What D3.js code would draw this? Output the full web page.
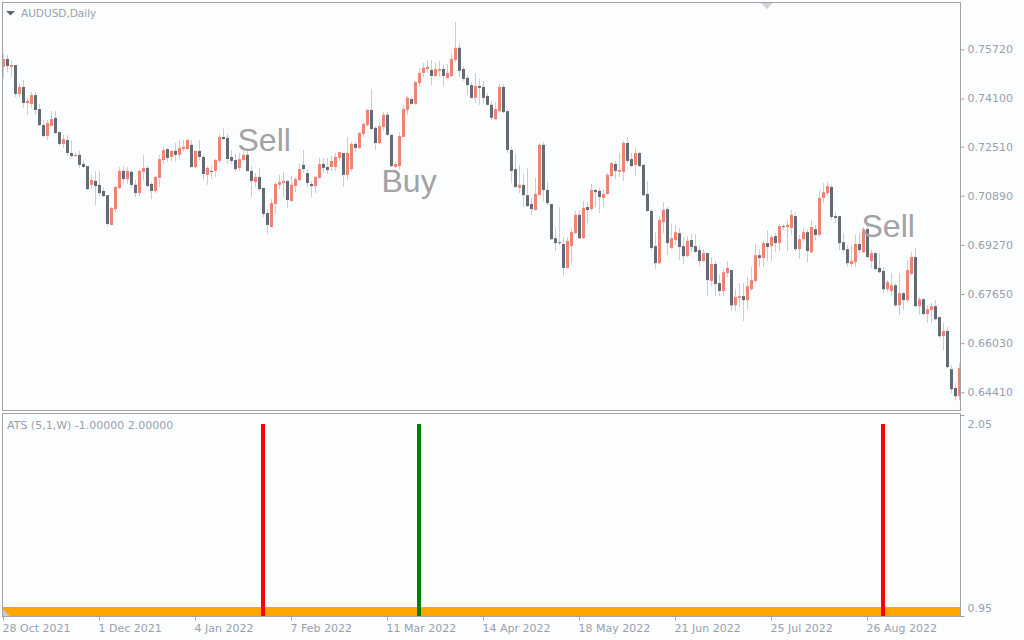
<!DOCTYPE html>
<html><head><meta charset="utf-8">
<script src="https://cdn.jsdelivr.net/npm/d3@7"></script>
<style>html,body{margin:0;padding:0;background:#fcfdff;} svg{display:block;}</style>
</head><body>
<svg id="chart" width="1024" height="640"></svg>
<script>
// ---- Data (AUDUSD daily) ----
const open = [
.7514,.7540,.7514,.7520,.7425,.7448,.7395,.7392,.7421,.7375,
.7322,.7286,.7319,.7346,.7299,.7260,.7273,.7230,.7220,.7224,
.7194,.7187,.7125,.7138,.7125,.7105,.7091,.6993,.7045,.7115,
.7171,.7144,.7168,.7125,.7098,.7168,.7181,.7128,.7105,.7148,
.7207,.7243,.7217,.7237,.7224,.7243,.7243,.7257,.7184,.7237,
.7217,.7158,.7171,.7171,.7204,.7283,.7280,.7217,.7207,.7181,
.7207,.7224,.7171,.7135,.7151,.7115,.7032,.6986,.7062,.7125,
.7131,.7138,.7072,.7121,.7141,.7191,.7164,.7128,.7121,.7148,
.7194,.7184,.7184,.7184,.7214,.7230,.7158,.7177,.7260,.7247,
.7293,.7322,.7372,.7313,.7263,.7316,.7356,.7290,.7184,.7187,
.7283,.7372,.7408,.7392,.7461,.7494,.7507,.7504,.7484,.7501,
.7507,.7478,.7484,.7537,.7577,.7507,.7478,.7454,.7412,.7451,
.7448,.7418,.7389,.7342,.7368,.7448,.7368,.7240,.7177,.7115,
.7125,.7091,.7062,.7042,.7091,.7257,.7108,.7062,.6949,.6936,
.6930,.6851,.6923,.6966,.7026,.6949,.7052,.7045,.7108,.7105,
.7082,.7095,.7154,.7194,.7168,.7168,.7263,.7210,.7191,.7230,
.7191,.7095,.7039,.6923,.6867,.7002,.7045,.6917,.6943,.6966,
.6923,.6890,.6943,.6923,.6910,.6874,.6900,.6808,.6864,.6801,
.6775,.6834,.6844,.6728,.6752,.6758,.6745,.6781,.6808,.6893,
.6884,.6933,.6923,.6956,.6933,.6989,.6986,.6983,.7022,.6913,
.6946,.6969,.6903,.6979,.6960,.7082,.7098,.7118,.7022,.7022,
.6936,.6913,.6864,.6870,.6930,.6903,.6979,.6874,.6900,.6851,
.6841,.6781,.6775,.6794,.6728,.6768,.6745,.6831,.6887,.6725,
.6748,.6699,.6712,.6725,.6689,.6626,.6643,.6517,.6455,.6428];
const high = [
.7557,.7554,.7537,.7520,.7458,.7471,.7412,.7431,.7431,.7392,
.7339,.7339,.7368,.7368,.7303,.7290,.7290,.7273,.7230,.7237,
.7207,.7187,.7158,.7171,.7171,.7118,.7091,.7052,.7121,.7184,
.7187,.7184,.7174,.7141,.7177,.7224,.7187,.7135,.7154,.7224,
.7250,.7247,.7240,.7263,.7273,.7273,.7276,.7273,.7240,.7273,
.7224,.7187,.7187,.7210,.7293,.7313,.7293,.7240,.7227,.7230,
.7237,.7237,.7187,.7164,.7181,.7115,.7045,.7078,.7135,.7158,
.7168,.7141,.7154,.7151,.7194,.7240,.7177,.7138,.7154,.7214,
.7214,.7214,.7220,.7230,.7233,.7230,.7283,.7266,.7266,.7299,
.7332,.7375,.7441,.7319,.7332,.7365,.7365,.7290,.7200,.7299,
.7389,.7418,.7415,.7468,.7511,.7527,.7537,.7537,.7530,.7534,
.7520,.7524,.7557,.7662,.7593,.7517,.7488,.7464,.7494,.7474,
.7468,.7428,.7402,.7398,.7458,.7458,.7375,.7250,.7227,.7191,
.7161,.7181,.7082,.7148,.7263,.7266,.7135,.7062,.6986,.7052,
.6953,.6953,.6983,.7039,.7042,.7072,.7068,.7128,.7111,.7115,
.7111,.7164,.7200,.7204,.7230,.7270,.7283,.7230,.7247,.7233,
.7191,.7138,.7045,.6969,.7022,.7068,.7052,.6996,.6993,.6983,
.6953,.6956,.6963,.6963,.6927,.6913,.6900,.6887,.6874,.6828,
.6847,.6874,.6844,.6781,.6801,.6801,.6821,.6854,.6930,.6913,
.6940,.6976,.6960,.6966,.6996,.6996,.7009,.7042,.7035,.6960,
.6983,.6976,.7009,.6993,.7108,.7131,.7135,.7125,.7035,.7022,
.6966,.6927,.6927,.6960,.6966,.6986,.6993,.6910,.6903,.6900,
.6854,.6811,.6834,.6801,.6834,.6771,.6877,.6903,.6917,.6755,
.6752,.6728,.6735,.6745,.6689,.6669,.6656,.6530,.6471,.6537];
const low = [
.7478,.7497,.7481,.7415,.7412,.7379,.7356,.7379,.7356,.7319,
.7283,.7273,.7319,.7293,.7253,.7247,.7220,.7217,.7217,.7181,
.7181,.7108,.7111,.7059,.7088,.7085,.6989,.6993,.7035,.7111,
.7128,.7128,.7115,.7085,.7088,.7141,.7118,.7078,.7098,.7118,
.7194,.7201,.7204,.7201,.7210,.7237,.7240,.7181,.7181,.7207,
.7141,.7125,.7144,.7151,.7197,.7273,.7194,.7194,.7168,.7171,
.7201,.7168,.7085,.7118,.7105,.7019,.6963,.6983,.7029,.7111,
.7085,.7049,.7068,.7101,.7138,.7164,.7115,.7085,.7098,.7144,
.7164,.7161,.7171,.7171,.7204,.7118,.7141,.7171,.7233,.7243,
.7283,.7316,.7306,.7240,.7260,.7303,.7286,.7184,.7181,.7177,
.7283,.7356,.7389,.7389,.7448,.7481,.7494,.7454,.7481,.7481,
.7451,.7474,.7481,.7530,.7481,.7468,.7421,.7408,.7395,.7389,
.7392,.7385,.7339,.7339,.7365,.7362,.7230,.7131,.7115,.7098,
.7052,.7052,.7026,.7042,.7091,.7072,.7059,.6943,.6907,.6927,
.6824,.6847,.6867,.6963,.6946,.6946,.6999,.7039,.7052,.7032,
.7052,.7091,.7151,.7144,.7151,.7138,.7197,.7184,.7154,.7184,
.7088,.7035,.6910,.6847,.6864,.6966,.6893,.6913,.6927,.6877,
.6864,.6887,.6904,.6900,.6857,.6870,.6758,.6791,.6758,.6758,
.6758,.6821,.6709,.6709,.6722,.6676,.6715,.6775,.6804,.6854,
.6854,.6874,.6874,.6904,.6907,.6976,.6907,.6960,.6907,.6880,
.6936,.6870,.6900,.6943,.6953,.7065,.7091,.7009,.6999,.6910,
.6903,.6854,.6854,.6854,.6900,.6900,.6884,.6851,.6844,.6834,
.6768,.6771,.6761,.6722,.6696,.6712,.6738,.6827,.6722,.6696,
.6696,.6669,.6669,.6679,.6620,.6580,.6521,.6438,.6415,.6415];
const close = [
.7540,.7517,.7520,.7425,.7448,.7395,.7402,.7421,.7372,.7322,
.7286,.7329,.7342,.7296,.7260,.7276,.7230,.7220,.7224,.7191,
.7184,.7111,.7141,.7121,.7098,.7088,.6996,.7049,.7118,.7171,
.7144,.7171,.7125,.7098,.7171,.7181,.7121,.7105,.7151,.7210,
.7240,.7214,.7237,.7224,.7247,.7250,.7273,.7184,.7237,.7217,
.7161,.7181,.7168,.7207,.7283,.7276,.7210,.7204,.7177,.7210,
.7224,.7171,.7138,.7151,.7111,.7029,.6993,.7065,.7128,.7135,
.7138,.7075,.7125,.7144,.7177,.7177,.7131,.7121,.7151,.7194,
.7181,.7174,.7204,.7217,.7233,.7158,.7230,.7260,.7247,.7296,
.7326,.7372,.7309,.7263,.7319,.7356,.7290,.7187,.7194,.7286,
.7375,.7412,.7392,.7464,.7494,.7511,.7514,.7484,.7507,.7507,
.7484,.7494,.7540,.7577,.7501,.7474,.7454,.7412,.7451,.7445,
.7412,.7389,.7346,.7375,.7448,.7365,.7240,.7171,.7118,.7125,
.7091,.7055,.7045,.7095,.7257,.7108,.7065,.6946,.6933,.6933,
.6851,.6940,.6969,.7026,.6949,.7049,.7042,.7108,.7101,.7085,
.7095,.7158,.7197,.7171,.7174,.7263,.7204,.7187,.7230,.7187,
.7091,.7039,.6917,.6867,.7009,.7042,.6933,.6949,.6969,.6920,
.6890,.6940,.6920,.6904,.6874,.6900,.6811,.6864,.6798,.6775,
.6837,.6851,.6728,.6755,.6758,.6745,.6791,.6811,.6893,.6884,
.6933,.6920,.6953,.6933,.6989,.6986,.6993,.7026,.6913,.6946,
.6969,.6907,.6986,.6960,.7082,.7101,.7121,.7019,.7016,.6933,
.6910,.6867,.6874,.6930,.6910,.6979,.6887,.6900,.6847,.6837,
.6781,.6804,.6794,.6728,.6768,.6745,.6844,.6887,.6725,.6748,
.6699,.6715,.6725,.6682,.6626,.6643,.6524,.6451,.6428,.6521];

const firstDate = "2021-10-28";           // first bar, daily (weekdays)
const priceTicks = [0.75720, 0.74100, 0.72510, 0.70890, 0.69270, 0.67650, 0.66030, 0.64410];
const dateTickLabels = ["28 Oct 2021","1 Dec 2021","4 Jan 2022","7 Feb 2022","11 Mar 2022",
                        "14 Apr 2022","18 May 2022","21 Jun 2022","25 Jul 2022","26 Aug 2022"];
const signalBars  = [65, 104, 220];
const signalTypes = ["sell", "buy", "sell"];
const signalValue = 2.0;
const neutralValue = 1.0;
const indicatorTicks = [2.05, 0.95];
const noteTexts  = ["Sell", "Buy", "Sell"];
const noteBars   = [59, 95, 215];
const notePrices = [0.72383, 0.71025, 0.69541];

// ---- Build dates ----
const parse = d3.timeParse("%Y-%m-%d");
const dates = [];
{ let d = parse(firstDate);
  while (dates.length < open.length) {
    if (d.getDay() !== 0 && d.getDay() !== 6) dates.push(new Date(d));
    d = d3.timeDay.offset(d, 1);
  } }
const fmtDate = d3.timeFormat("%-d %b %Y");
const bars = dates.map((d, i) => ({date: d, o: open[i], h: high[i], l: low[i], c: close[i]}));

// ---- Layout ----
const svg = d3.select("#chart");
const W = 1024, H = 640;
const left = 2.5, right = 960.5;
const mainTop = 2.5, mainBot = 410.5;
const indTop = 413.5, indBot = 616.5;
const BULL = "#f08474", BEAR = "#656b74", WICK = "#c9cdd6";
const BORDER = "#a3a3a3", LABEL = "#98a0b0";
const FONT = "'DejaVu Sans', Verdana, sans-serif";

svg.append("rect").attr("width", W).attr("height", H).attr("fill", "#fcfdff");

const x = d3.scaleBand().domain(dates).range([1.5, 1.5 + 4 * dates.length]).paddingInner(0).paddingOuter(0);
const y = d3.scaleLinear().domain([0.64410, 0.75720]).range([392.3, 49.3]);
const yI = d3.scaleLinear().domain([0.95, 2.05]).range([616, 415]);

const defs = svg.append("defs");
defs.append("clipPath").attr("id", "clipMain").append("rect")
  .attr("x", 3).attr("y", 3).attr("width", 957).attr("height", 407);
defs.append("clipPath").attr("id", "clipInd").append("rect")
  .attr("x", 3).attr("y", 414).attr("width", 957).attr("height", 202);

// ---- Candles ----
const gMain = svg.append("g").attr("clip-path", "url(#clipMain)");
const cx = d => x(d.date) + 2;
gMain.append("g").selectAll("rect").data(bars).join("rect")
  .attr("x", d => cx(d) - 0.5).attr("width", 1)
  .attr("y", d => y(d.h)).attr("height", d => Math.max(1, y(d.l) - y(d.h)))
  .attr("fill", WICK);
gMain.append("g").selectAll("rect").data(bars).join("rect")
  .attr("x", d => cx(d) - 1.5).attr("width", 3)
  .attr("y", d => y(Math.max(d.o, d.c)))
  .attr("height", d => Math.max(1, Math.abs(y(d.o) - y(d.c))))
  .attr("fill", d => d.c >= d.o ? BULL : BEAR);

// ---- Annotations ----
gMain.append("g").selectAll("text").data(noteTexts).join("text")
  .attr("x", (t, i) => x(dates[noteBars[i]]))
  .attr("y", (t, i) => y(notePrices[i]))
  .attr("font-family", "'Liberation Sans', Arial, sans-serif")
  .attr("font-size", 32).attr("fill", "#a2a2a4").text(t => t);

// ---- Indicator ----
const gInd = svg.append("g").attr("clip-path", "url(#clipInd)").attr("shape-rendering", "crispEdges");
gInd.append("g").selectAll("rect").data(dates).join("rect")
  .attr("x", d => Math.floor(x(d))).attr("width", Math.round(x.bandwidth()))
  .attr("y", Math.round(yI(neutralValue))).attr("height", Math.round(yI(0.95)) - Math.round(yI(neutralValue)))
  .attr("fill", "#ffa500");
gInd.append("g").selectAll("rect").data(signalBars).join("rect")
  .attr("x", i => Math.floor(x(dates[i]))).attr("width", 4)
  .attr("y", Math.round(yI(signalValue))).attr("height", Math.round(yI(0.95)) - Math.round(yI(signalValue)))
  .attr("fill", (b, k) => signalTypes[k] === "buy" ? "#008000" : "#ff0000");
// chart-end marker
svg.append("path").attr("d", "M3,609.5 L3,616 L9.5,616 Z").attr("fill", "#c8ccd4");

// ---- Panel frames ----
svg.append("rect").attr("x", left).attr("y", mainTop).attr("width", right - left).attr("height", mainBot - mainTop)
  .attr("fill", "none").attr("stroke", BORDER);
svg.append("rect").attr("x", left).attr("y", indTop).attr("width", right - left).attr("height", indBot - indTop)
  .attr("fill", "none").attr("stroke", BORDER);

// ---- Price axis ----
const yAxis = svg.append("g").attr("transform", `translate(${right},0)`)
  .call(d3.axisRight(y).tickValues(priceTicks).tickFormat(d3.format(".5f")).tickSize(4).tickPadding(3));
yAxis.select(".domain").remove();
yAxis.selectAll("line").attr("stroke", BORDER);
yAxis.selectAll("text").attr("fill", LABEL).attr("font-family", FONT).attr("font-size", 11);

// ---- Indicator axis ----
const iAxis = svg.append("g").attr("transform", `translate(${right},0)`);
iAxis.selectAll("line").data(indicatorTicks).join("line")
  .attr("x1", 0).attr("x2", 4).attr("y1", v => Math.round(yI(v)) + 0.5).attr("y2", v => Math.round(yI(v)) + 0.5)
  .attr("stroke", BORDER);
iAxis.selectAll("text").data(indicatorTicks).join("text")
  .attr("x", 7).attr("y", (v, i) => i === 0 ? yI(v) + 12.5 : yI(v) - 4)
  .attr("fill", LABEL).attr("font-family", FONT).attr("font-size", 11)
  .text(v => d3.format(".2f")(v));

// ---- Date axis ----
const tickDates = dates.filter(d => dateTickLabels.includes(fmtDate(d)));
const xAxis = svg.append("g").attr("transform", `translate(0,${indBot})`)
  .call(d3.axisBottom(x).tickValues(tickDates).tickFormat(fmtDate).tickSize(4));
xAxis.select(".domain").remove();
xAxis.selectAll("line").attr("stroke", BORDER);
xAxis.selectAll("text").attr("fill", LABEL).attr("font-family", FONT).attr("font-size", 11)
  .attr("text-anchor", "start").attr("dx", -1).attr("y", 15.5).attr("dy", 0);

// ---- Titles ----
svg.append("path").attr("d", "M6,11 L15,11 L10.5,15.5 Z").attr("fill", "#5f6470");
svg.append("text").attr("x", 21).attr("y", 17).attr("fill", LABEL)
  .attr("font-family", FONT).attr("font-size", 10.5).text("AUDUSD,Daily");
svg.append("text").attr("x", 7).attr("y", 429).attr("fill", LABEL)
  .attr("font-family", FONT).attr("font-size", 11).text("ATS (5,1,W) -1.00000 2.00000");
// shift marker
svg.append("path").attr("d", "M761,3 L773,3 L767,9 Z").attr("fill", "#d0d4da");
</script>
</body></html>
